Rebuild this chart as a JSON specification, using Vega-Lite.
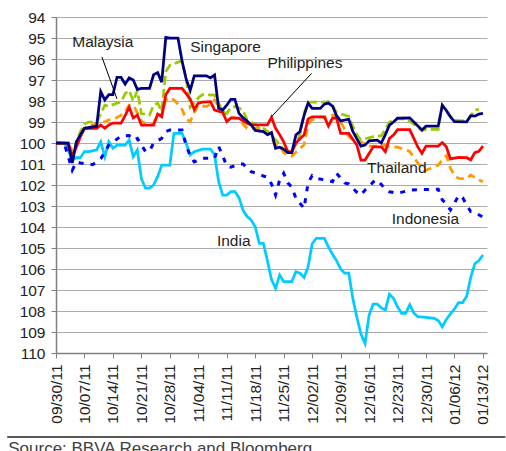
{
"$schema":"https://vega.github.io/schema/vega-lite/v6.json",
"width":431,"height":336,
"autosize":{"type":"none"},
"padding":{"left":56,"top":17,"right":19,"bottom":98},
"background":"white",
"config":{"view":{"stroke":null},"font":"Liberation Sans","text":{"font":"Liberation Sans"},
 "axis":{"labelOverlap":false,"labelFlush":false,"labelBound":false,"title":null,"labelFontSize":15.5,"labelFont":"Liberation Sans","labelColor":"#222222","labelPadding":6,"tickSize":5,"tickColor":"#808080","domainColor":"#808080","domainWidth":1.5},
 "axisX":{"grid":false,"labelAngle":-90,"labelAlign":"right","labelBaseline":"middle"},
 "axisY":{"grid":true,"gridColor":"#ababab","gridWidth":1}},
"resolve":{"axis":{"x":"independent","y":"independent"}},
"datasets":{
"series":[
{"s":"Singapore","t":"2011-09-30","v":100},{"s":"Singapore","t":"2011-10-03","v":100},{"s":"Singapore","t":"2011-10-04","v":100.95},{"s":"Singapore","t":"2011-10-05","v":99.95},{"s":"Singapore","t":"2011-10-06","v":99.6},{"s":"Singapore","t":"2011-10-07","v":99.3},{"s":"Singapore","t":"2011-10-10","v":99.2},{"s":"Singapore","t":"2011-10-11","v":97.55},{"s":"Singapore","t":"2011-10-12","v":97.95},{"s":"Singapore","t":"2011-10-13","v":97.7},{"s":"Singapore","t":"2011-10-14","v":97.7},{"s":"Singapore","t":"2011-10-15","v":96.87},{"s":"Singapore","t":"2011-10-16","v":96.87},{"s":"Singapore","t":"2011-10-17","v":97.2},{"s":"Singapore","t":"2011-10-18","v":96.9},{"s":"Singapore","t":"2011-10-19","v":97.0},{"s":"Singapore","t":"2011-10-20","v":97.45},{"s":"Singapore","t":"2011-10-21","v":97.4},{"s":"Singapore","t":"2011-10-23","v":97.4},{"s":"Singapore","t":"2011-10-24","v":96.75},{"s":"Singapore","t":"2011-10-25","v":96.65},{"s":"Singapore","t":"2011-10-26","v":97.1},{"s":"Singapore","t":"2011-10-27","v":94.97},{"s":"Singapore","t":"2011-10-28","v":95.0},{"s":"Singapore","t":"2011-10-30","v":95.0},{"s":"Singapore","t":"2011-10-31","v":96.1},{"s":"Singapore","t":"2011-11-01","v":96.95},{"s":"Singapore","t":"2011-11-02","v":97.5},{"s":"Singapore","t":"2011-11-03","v":96.8},{"s":"Singapore","t":"2011-11-06","v":96.8},{"s":"Singapore","t":"2011-11-07","v":96.9},{"s":"Singapore","t":"2011-11-08","v":96.76},{"s":"Singapore","t":"2011-11-09","v":98.35},{"s":"Singapore","t":"2011-11-10","v":98.43},{"s":"Singapore","t":"2011-11-11","v":98.2},{"s":"Singapore","t":"2011-11-12","v":97.92},{"s":"Singapore","t":"2011-11-13","v":97.92},{"s":"Singapore","t":"2011-11-14","v":98.59},{"s":"Singapore","t":"2011-11-15","v":98.8},{"s":"Singapore","t":"2011-11-16","v":98.95},{"s":"Singapore","t":"2011-11-17","v":99.14},{"s":"Singapore","t":"2011-11-18","v":99.4},{"s":"Singapore","t":"2011-11-20","v":99.46},{"s":"Singapore","t":"2011-11-21","v":99.6},{"s":"Singapore","t":"2011-11-22","v":99.5},{"s":"Singapore","t":"2011-11-23","v":100.25},{"s":"Singapore","t":"2011-11-24","v":100.2},{"s":"Singapore","t":"2011-11-25","v":100.3},{"s":"Singapore","t":"2011-11-26","v":100.46},{"s":"Singapore","t":"2011-11-27","v":100.46},{"s":"Singapore","t":"2011-11-28","v":99.62},{"s":"Singapore","t":"2011-11-29","v":99.45},{"s":"Singapore","t":"2011-11-30","v":98.7},{"s":"Singapore","t":"2011-12-01","v":98.1},{"s":"Singapore","t":"2011-12-02","v":98.35},{"s":"Singapore","t":"2011-12-04","v":98.35},{"s":"Singapore","t":"2011-12-05","v":98.15},{"s":"Singapore","t":"2011-12-06","v":98.1},{"s":"Singapore","t":"2011-12-07","v":98.24},{"s":"Singapore","t":"2011-12-08","v":98.7},{"s":"Singapore","t":"2011-12-09","v":98.95},{"s":"Singapore","t":"2011-12-11","v":98.87},{"s":"Singapore","t":"2011-12-12","v":99.45},{"s":"Singapore","t":"2011-12-13","v":99.8},{"s":"Singapore","t":"2011-12-14","v":100.15},{"s":"Singapore","t":"2011-12-15","v":100.1},{"s":"Singapore","t":"2011-12-16","v":99.9},{"s":"Singapore","t":"2011-12-18","v":99.86},{"s":"Singapore","t":"2011-12-19","v":100.0},{"s":"Singapore","t":"2011-12-20","v":99.6},{"s":"Singapore","t":"2011-12-21","v":99.15},{"s":"Singapore","t":"2011-12-22","v":99.0},{"s":"Singapore","t":"2011-12-23","v":98.82},{"s":"Singapore","t":"2011-12-26","v":98.8},{"s":"Singapore","t":"2011-12-29","v":99.38},{"s":"Singapore","t":"2011-12-30","v":99.2},{"s":"Singapore","t":"2012-01-02","v":99.2},{"s":"Singapore","t":"2012-01-03","v":98.2},{"s":"Singapore","t":"2012-01-04","v":98.45},{"s":"Singapore","t":"2012-01-05","v":98.75},{"s":"Singapore","t":"2012-01-06","v":98.98},{"s":"Singapore","t":"2012-01-09","v":98.99},{"s":"Singapore","t":"2012-01-10","v":98.7},{"s":"Singapore","t":"2012-01-11","v":98.72},{"s":"Singapore","t":"2012-01-12","v":98.62},{"s":"Singapore","t":"2012-01-13","v":98.59},
{"s":"Malaysia","t":"2011-09-30","v":100},{"s":"Malaysia","t":"2011-10-03","v":100},{"s":"Malaysia","t":"2011-10-04","v":100.75},{"s":"Malaysia","t":"2011-10-05","v":100.0},{"s":"Malaysia","t":"2011-10-06","v":99.45},{"s":"Malaysia","t":"2011-10-07","v":99.1},{"s":"Malaysia","t":"2011-10-08","v":99.0},{"s":"Malaysia","t":"2011-10-10","v":99.0},{"s":"Malaysia","t":"2011-10-11","v":98.6},{"s":"Malaysia","t":"2011-10-12","v":98.2},{"s":"Malaysia","t":"2011-10-13","v":98.25},{"s":"Malaysia","t":"2011-10-15","v":98.1},{"s":"Malaysia","t":"2011-10-16","v":98.05},{"s":"Malaysia","t":"2011-10-17","v":97.65},{"s":"Malaysia","t":"2011-10-18","v":97.5},{"s":"Malaysia","t":"2011-10-19","v":98.0},{"s":"Malaysia","t":"2011-10-20","v":97.5},{"s":"Malaysia","t":"2011-10-21","v":98.6},{"s":"Malaysia","t":"2011-10-23","v":98.67},{"s":"Malaysia","t":"2011-10-24","v":98.2},{"s":"Malaysia","t":"2011-10-25","v":98.1},{"s":"Malaysia","t":"2011-10-26","v":98.5},{"s":"Malaysia","t":"2011-10-27","v":96.6},{"s":"Malaysia","t":"2011-10-28","v":96.3},{"s":"Malaysia","t":"2011-10-30","v":96.15},{"s":"Malaysia","t":"2011-10-31","v":96.1},{"s":"Malaysia","t":"2011-11-01","v":96.9},{"s":"Malaysia","t":"2011-11-02","v":98.3},{"s":"Malaysia","t":"2011-11-03","v":98.1},{"s":"Malaysia","t":"2011-11-04","v":97.85},{"s":"Malaysia","t":"2011-11-05","v":97.7},{"s":"Malaysia","t":"2011-11-08","v":97.72},{"s":"Malaysia","t":"2011-11-09","v":98.1},{"s":"Malaysia","t":"2011-11-10","v":98.5},{"s":"Malaysia","t":"2011-11-11","v":98.6},{"s":"Malaysia","t":"2011-11-12","v":98.3},{"s":"Malaysia","t":"2011-11-13","v":98.27},{"s":"Malaysia","t":"2011-11-14","v":98.33},{"s":"Malaysia","t":"2011-11-15","v":98.45},{"s":"Malaysia","t":"2011-11-16","v":98.9},{"s":"Malaysia","t":"2011-11-17","v":99.0},{"s":"Malaysia","t":"2011-11-19","v":99.22},{"s":"Malaysia","t":"2011-11-20","v":99.3},{"s":"Malaysia","t":"2011-11-21","v":99.45},{"s":"Malaysia","t":"2011-11-23","v":99.85},{"s":"Malaysia","t":"2011-11-24","v":100.05},{"s":"Malaysia","t":"2011-11-25","v":100.33},{"s":"Malaysia","t":"2011-11-27","v":100.4},{"s":"Malaysia","t":"2011-11-28","v":100.05},{"s":"Malaysia","t":"2011-11-29","v":99.6},{"s":"Malaysia","t":"2011-11-30","v":98.6},{"s":"Malaysia","t":"2011-12-01","v":98.05},{"s":"Malaysia","t":"2011-12-05","v":98.05},{"s":"Malaysia","t":"2011-12-06","v":98.03},{"s":"Malaysia","t":"2011-12-07","v":98.2},{"s":"Malaysia","t":"2011-12-08","v":98.55},{"s":"Malaysia","t":"2011-12-10","v":98.67},{"s":"Malaysia","t":"2011-12-11","v":98.73},{"s":"Malaysia","t":"2011-12-12","v":99.2},{"s":"Malaysia","t":"2011-12-13","v":99.6},{"s":"Malaysia","t":"2011-12-14","v":99.85},{"s":"Malaysia","t":"2011-12-17","v":99.7},{"s":"Malaysia","t":"2011-12-19","v":99.65},{"s":"Malaysia","t":"2011-12-20","v":99.35},{"s":"Malaysia","t":"2011-12-21","v":99.0},{"s":"Malaysia","t":"2011-12-23","v":98.85},{"s":"Malaysia","t":"2011-12-25","v":98.85},{"s":"Malaysia","t":"2011-12-27","v":99.1},{"s":"Malaysia","t":"2011-12-29","v":99.4},{"s":"Malaysia","t":"2011-12-30","v":99.35},{"s":"Malaysia","t":"2012-01-02","v":99.35},{"s":"Malaysia","t":"2012-01-03","v":98.2},{"s":"Malaysia","t":"2012-01-05","v":98.75},{"s":"Malaysia","t":"2012-01-06","v":98.92},{"s":"Malaysia","t":"2012-01-09","v":98.95},{"s":"Malaysia","t":"2012-01-10","v":98.7},{"s":"Malaysia","t":"2012-01-11","v":98.43},{"s":"Malaysia","t":"2012-01-12","v":98.4},
{"s":"Philippines","t":"2011-09-30","v":100},{"s":"Philippines","t":"2011-10-03","v":100},{"s":"Philippines","t":"2011-10-04","v":100.65},{"s":"Philippines","t":"2011-10-05","v":100.2},{"s":"Philippines","t":"2011-10-06","v":99.7},{"s":"Philippines","t":"2011-10-07","v":99.3},{"s":"Philippines","t":"2011-10-10","v":99.3},{"s":"Philippines","t":"2011-10-11","v":99.14},{"s":"Philippines","t":"2011-10-12","v":99.3},{"s":"Philippines","t":"2011-10-13","v":99.14},{"s":"Philippines","t":"2011-10-14","v":99.05},{"s":"Philippines","t":"2011-10-16","v":99.05},{"s":"Philippines","t":"2011-10-17","v":98.7},{"s":"Philippines","t":"2011-10-18","v":98.3},{"s":"Philippines","t":"2011-10-19","v":98.8},{"s":"Philippines","t":"2011-10-20","v":98.67},{"s":"Philippines","t":"2011-10-21","v":99.15},{"s":"Philippines","t":"2011-10-24","v":99.15},{"s":"Philippines","t":"2011-10-25","v":98.62},{"s":"Philippines","t":"2011-10-26","v":98.75},{"s":"Philippines","t":"2011-10-27","v":97.7},{"s":"Philippines","t":"2011-10-28","v":97.4},{"s":"Philippines","t":"2011-10-31","v":97.4},{"s":"Philippines","t":"2011-11-01","v":97.65},{"s":"Philippines","t":"2011-11-02","v":97.9},{"s":"Philippines","t":"2011-11-03","v":98.4},{"s":"Philippines","t":"2011-11-04","v":98.1},{"s":"Philippines","t":"2011-11-05","v":98.05},{"s":"Philippines","t":"2011-11-07","v":98.03},{"s":"Philippines","t":"2011-11-08","v":98.43},{"s":"Philippines","t":"2011-11-10","v":98.55},{"s":"Philippines","t":"2011-11-11","v":98.98},{"s":"Philippines","t":"2011-11-12","v":98.82},{"s":"Philippines","t":"2011-11-14","v":98.82},{"s":"Philippines","t":"2011-11-16","v":99.06},{"s":"Philippines","t":"2011-11-17","v":99.14},{"s":"Philippines","t":"2011-11-21","v":99.14},{"s":"Philippines","t":"2011-11-22","v":98.78},{"s":"Philippines","t":"2011-11-23","v":99.3},{"s":"Philippines","t":"2011-11-24","v":99.6},{"s":"Philippines","t":"2011-11-25","v":99.95},{"s":"Philippines","t":"2011-11-26","v":100.41},{"s":"Philippines","t":"2011-11-27","v":100.41},{"s":"Philippines","t":"2011-11-28","v":100.0},{"s":"Philippines","t":"2011-11-29","v":99.8},{"s":"Philippines","t":"2011-11-30","v":99.62},{"s":"Philippines","t":"2011-12-01","v":98.85},{"s":"Philippines","t":"2011-12-02","v":98.75},{"s":"Philippines","t":"2011-12-05","v":98.75},{"s":"Philippines","t":"2011-12-06","v":99.19},{"s":"Philippines","t":"2011-12-07","v":98.82},{"s":"Philippines","t":"2011-12-08","v":98.82},{"s":"Philippines","t":"2011-12-09","v":99.54},{"s":"Philippines","t":"2011-12-11","v":99.54},{"s":"Philippines","t":"2011-12-13","v":100.1},{"s":"Philippines","t":"2011-12-14","v":100.81},{"s":"Philippines","t":"2011-12-15","v":100.81},{"s":"Philippines","t":"2011-12-16","v":100.5},{"s":"Philippines","t":"2011-12-17","v":100.18},{"s":"Philippines","t":"2011-12-19","v":100.18},{"s":"Philippines","t":"2011-12-20","v":100.41},{"s":"Philippines","t":"2011-12-21","v":99.78},{"s":"Philippines","t":"2011-12-22","v":99.62},{"s":"Philippines","t":"2011-12-23","v":99.36},{"s":"Philippines","t":"2011-12-26","v":99.36},{"s":"Philippines","t":"2011-12-27","v":99.78},{"s":"Philippines","t":"2011-12-28","v":100.2},{"s":"Philippines","t":"2011-12-29","v":100.49},{"s":"Philippines","t":"2011-12-30","v":100.15},{"s":"Philippines","t":"2012-01-02","v":100.15},{"s":"Philippines","t":"2012-01-03","v":99.98},{"s":"Philippines","t":"2012-01-04","v":100.18},{"s":"Philippines","t":"2012-01-05","v":100.76},{"s":"Philippines","t":"2012-01-07","v":100.68},{"s":"Philippines","t":"2012-01-09","v":100.7},{"s":"Philippines","t":"2012-01-10","v":100.8},{"s":"Philippines","t":"2012-01-11","v":100.46},{"s":"Philippines","t":"2012-01-12","v":100.4},{"s":"Philippines","t":"2012-01-13","v":100.15},
{"s":"Thailand","t":"2011-09-30","v":100},{"s":"Thailand","t":"2011-10-03","v":100.05},{"s":"Thailand","t":"2011-10-04","v":100.35},{"s":"Thailand","t":"2011-10-05","v":100.0},{"s":"Thailand","t":"2011-10-06","v":99.7},{"s":"Thailand","t":"2011-10-07","v":99.3},{"s":"Thailand","t":"2011-10-09","v":99.15},{"s":"Thailand","t":"2011-10-10","v":99.05},{"s":"Thailand","t":"2011-10-11","v":98.98},{"s":"Thailand","t":"2011-10-12","v":99.0},{"s":"Thailand","t":"2011-10-13","v":98.9},{"s":"Thailand","t":"2011-10-14","v":98.9},{"s":"Thailand","t":"2011-10-16","v":98.67},{"s":"Thailand","t":"2011-10-17","v":98.5},{"s":"Thailand","t":"2011-10-18","v":98.2},{"s":"Thailand","t":"2011-10-19","v":98.2},{"s":"Thailand","t":"2011-10-20","v":98.55},{"s":"Thailand","t":"2011-10-21","v":98.98},{"s":"Thailand","t":"2011-10-22","v":99.06},{"s":"Thailand","t":"2011-10-24","v":99.06},{"s":"Thailand","t":"2011-10-25","v":98.65},{"s":"Thailand","t":"2011-10-26","v":98.67},{"s":"Thailand","t":"2011-10-27","v":97.95},{"s":"Thailand","t":"2011-10-28","v":97.85},{"s":"Thailand","t":"2011-10-29","v":97.95},{"s":"Thailand","t":"2011-10-30","v":98.15},{"s":"Thailand","t":"2011-10-31","v":98.4},{"s":"Thailand","t":"2011-11-01","v":98.85},{"s":"Thailand","t":"2011-11-02","v":98.98},{"s":"Thailand","t":"2011-11-03","v":98.55},{"s":"Thailand","t":"2011-11-04","v":98.2},{"s":"Thailand","t":"2011-11-06","v":98.27},{"s":"Thailand","t":"2011-11-07","v":98.15},{"s":"Thailand","t":"2011-11-08","v":97.95},{"s":"Thailand","t":"2011-11-10","v":98.5},{"s":"Thailand","t":"2011-11-11","v":98.7},{"s":"Thailand","t":"2011-11-13","v":98.8},{"s":"Thailand","t":"2011-11-14","v":98.85},{"s":"Thailand","t":"2011-11-15","v":99.1},{"s":"Thailand","t":"2011-11-16","v":99.3},{"s":"Thailand","t":"2011-11-20","v":99.3},{"s":"Thailand","t":"2011-11-21","v":99.45},{"s":"Thailand","t":"2011-11-22","v":99.8},{"s":"Thailand","t":"2011-11-23","v":100.08},{"s":"Thailand","t":"2011-11-24","v":100.14},{"s":"Thailand","t":"2011-11-25","v":100.45},{"s":"Thailand","t":"2011-11-26","v":100.6},{"s":"Thailand","t":"2011-11-27","v":100.62},{"s":"Thailand","t":"2011-11-29","v":100.25},{"s":"Thailand","t":"2011-11-30","v":100.1},{"s":"Thailand","t":"2011-12-01","v":99.1},{"s":"Thailand","t":"2011-12-02","v":98.9},{"s":"Thailand","t":"2011-12-04","v":98.75},{"s":"Thailand","t":"2011-12-05","v":98.8},{"s":"Thailand","t":"2011-12-06","v":98.72},{"s":"Thailand","t":"2011-12-07","v":98.67},{"s":"Thailand","t":"2011-12-08","v":98.72},{"s":"Thailand","t":"2011-12-09","v":99.0},{"s":"Thailand","t":"2011-12-11","v":99.7},{"s":"Thailand","t":"2011-12-12","v":99.85},{"s":"Thailand","t":"2011-12-14","v":99.95},{"s":"Thailand","t":"2011-12-16","v":100.15},{"s":"Thailand","t":"2011-12-19","v":100.14},{"s":"Thailand","t":"2011-12-20","v":100.1},{"s":"Thailand","t":"2011-12-21","v":100.2},{"s":"Thailand","t":"2011-12-23","v":100.2},{"s":"Thailand","t":"2011-12-25","v":100.33},{"s":"Thailand","t":"2011-12-26","v":100.4},{"s":"Thailand","t":"2011-12-27","v":100.7},{"s":"Thailand","t":"2011-12-28","v":100.95},{"s":"Thailand","t":"2011-12-29","v":101.2},{"s":"Thailand","t":"2011-12-30","v":101.3},{"s":"Thailand","t":"2012-01-01","v":101.13},{"s":"Thailand","t":"2012-01-02","v":101.05},{"s":"Thailand","t":"2012-01-03","v":100.8},{"s":"Thailand","t":"2012-01-04","v":100.6},{"s":"Thailand","t":"2012-01-05","v":101.2},{"s":"Thailand","t":"2012-01-06","v":101.55},{"s":"Thailand","t":"2012-01-07","v":101.68},{"s":"Thailand","t":"2012-01-09","v":101.7},{"s":"Thailand","t":"2012-01-10","v":101.52},{"s":"Thailand","t":"2012-01-12","v":101.76},{"s":"Thailand","t":"2012-01-13","v":101.84},
{"s":"India","t":"2011-09-30","v":100},{"s":"India","t":"2011-10-02","v":100},{"s":"India","t":"2011-10-03","v":100.33},{"s":"India","t":"2011-10-04","v":100.81},{"s":"India","t":"2011-10-05","v":100.7},{"s":"India","t":"2011-10-06","v":100.7},{"s":"India","t":"2011-10-07","v":100.41},{"s":"India","t":"2011-10-08","v":100.41},{"s":"India","t":"2011-10-10","v":100.33},{"s":"India","t":"2011-10-11","v":99.94},{"s":"India","t":"2011-10-12","v":100.65},{"s":"India","t":"2011-10-13","v":99.94},{"s":"India","t":"2011-10-14","v":100.25},{"s":"India","t":"2011-10-15","v":100.1},{"s":"India","t":"2011-10-17","v":100.1},{"s":"India","t":"2011-10-18","v":99.86},{"s":"India","t":"2011-10-19","v":100.65},{"s":"India","t":"2011-10-20","v":100.33},{"s":"India","t":"2011-10-21","v":101.7},{"s":"India","t":"2011-10-22","v":102.15},{"s":"India","t":"2011-10-23","v":102.15},{"s":"India","t":"2011-10-24","v":102.0},{"s":"India","t":"2011-10-25","v":101.6},{"s":"India","t":"2011-10-26","v":101.05},{"s":"India","t":"2011-10-28","v":101.05},{"s":"India","t":"2011-10-29","v":99.54},{"s":"India","t":"2011-10-31","v":99.54},{"s":"India","t":"2011-11-01","v":100.0},{"s":"India","t":"2011-11-02","v":100.57},{"s":"India","t":"2011-11-03","v":100.41},{"s":"India","t":"2011-11-05","v":100.29},{"s":"India","t":"2011-11-07","v":100.29},{"s":"India","t":"2011-11-08","v":100.57},{"s":"India","t":"2011-11-09","v":101.84},{"s":"India","t":"2011-11-10","v":102.48},{"s":"India","t":"2011-11-11","v":102.48},{"s":"India","t":"2011-11-12","v":102.32},{"s":"India","t":"2011-11-13","v":102.32},{"s":"India","t":"2011-11-14","v":102.6},{"s":"India","t":"2011-11-15","v":103.2},{"s":"India","t":"2011-11-16","v":103.5},{"s":"India","t":"2011-11-17","v":103.67},{"s":"India","t":"2011-11-18","v":103.99},{"s":"India","t":"2011-11-19","v":104.78},{"s":"India","t":"2011-11-20","v":104.78},{"s":"India","t":"2011-11-21","v":105.6},{"s":"India","t":"2011-11-22","v":106.5},{"s":"India","t":"2011-11-23","v":106.92},{"s":"India","t":"2011-11-24","v":106.29},{"s":"India","t":"2011-11-25","v":106.6},{"s":"India","t":"2011-11-27","v":106.6},{"s":"India","t":"2011-11-28","v":106.13},{"s":"India","t":"2011-11-29","v":106.2},{"s":"India","t":"2011-11-30","v":106.4},{"s":"India","t":"2011-12-01","v":105.9},{"s":"India","t":"2011-12-02","v":104.8},{"s":"India","t":"2011-12-03","v":104.54},{"s":"India","t":"2011-12-05","v":104.54},{"s":"India","t":"2011-12-06","v":104.95},{"s":"India","t":"2011-12-07","v":105.3},{"s":"India","t":"2011-12-08","v":105.6},{"s":"India","t":"2011-12-09","v":106.0},{"s":"India","t":"2011-12-10","v":106.2},{"s":"India","t":"2011-12-11","v":106.2},{"s":"India","t":"2011-12-12","v":107.4},{"s":"India","t":"2011-12-13","v":108.3},{"s":"India","t":"2011-12-14","v":109.1},{"s":"India","t":"2011-12-15","v":109.55},{"s":"India","t":"2011-12-16","v":108.2},{"s":"India","t":"2011-12-17","v":107.67},{"s":"India","t":"2011-12-18","v":107.67},{"s":"India","t":"2011-12-19","v":107.85},{"s":"India","t":"2011-12-20","v":107.95},{"s":"India","t":"2011-12-21","v":107.2},{"s":"India","t":"2011-12-22","v":107.4},{"s":"India","t":"2011-12-23","v":107.8},{"s":"India","t":"2011-12-24","v":108.11},{"s":"India","t":"2011-12-25","v":108.11},{"s":"India","t":"2011-12-26","v":107.7},{"s":"India","t":"2011-12-27","v":108.1},{"s":"India","t":"2011-12-28","v":108.27},{"s":"India","t":"2011-12-30","v":108.3},{"s":"India","t":"2012-01-01","v":108.35},{"s":"India","t":"2012-01-02","v":108.45},{"s":"India","t":"2012-01-03","v":108.75},{"s":"India","t":"2012-01-04","v":108.4},{"s":"India","t":"2012-01-05","v":108.14},{"s":"India","t":"2012-01-06","v":107.9},{"s":"India","t":"2012-01-07","v":107.6},{"s":"India","t":"2012-01-08","v":107.6},{"s":"India","t":"2012-01-09","v":107.3},{"s":"India","t":"2012-01-10","v":106.4},{"s":"India","t":"2012-01-11","v":105.75},{"s":"India","t":"2012-01-12","v":105.6},{"s":"India","t":"2012-01-13","v":105.33},
{"s":"Indonesia","t":"2011-09-30","v":100},{"s":"Indonesia","t":"2011-10-02","v":100},{"s":"Indonesia","t":"2011-10-04","v":101.29},{"s":"Indonesia","t":"2011-10-05","v":100.9},{"s":"Indonesia","t":"2011-10-06","v":100.95},{"s":"Indonesia","t":"2011-10-09","v":101.03},{"s":"Indonesia","t":"2011-10-11","v":100.75},{"s":"Indonesia","t":"2011-10-12","v":100.45},{"s":"Indonesia","t":"2011-10-13","v":100.1},{"s":"Indonesia","t":"2011-10-16","v":99.67},{"s":"Indonesia","t":"2011-10-18","v":99.65},{"s":"Indonesia","t":"2011-10-19","v":99.86},{"s":"Indonesia","t":"2011-10-20","v":99.78},{"s":"Indonesia","t":"2011-10-22","v":100.4},{"s":"Indonesia","t":"2011-10-23","v":100.38},{"s":"Indonesia","t":"2011-10-24","v":100.0},{"s":"Indonesia","t":"2011-10-26","v":99.78},{"s":"Indonesia","t":"2011-10-27","v":99.46},{"s":"Indonesia","t":"2011-10-28","v":99.38},{"s":"Indonesia","t":"2011-10-31","v":99.38},{"s":"Indonesia","t":"2011-11-01","v":100.12},{"s":"Indonesia","t":"2011-11-02","v":100.6},{"s":"Indonesia","t":"2011-11-03","v":100.9},{"s":"Indonesia","t":"2011-11-05","v":100.73},{"s":"Indonesia","t":"2011-11-08","v":100.73},{"s":"Indonesia","t":"2011-11-09","v":100.17},{"s":"Indonesia","t":"2011-11-10","v":100.6},{"s":"Indonesia","t":"2011-11-11","v":101.1},{"s":"Indonesia","t":"2011-11-12","v":101.15},{"s":"Indonesia","t":"2011-11-14","v":101.0},{"s":"Indonesia","t":"2011-11-15","v":101.0},{"s":"Indonesia","t":"2011-11-17","v":101.37},{"s":"Indonesia","t":"2011-11-18","v":101.42},{"s":"Indonesia","t":"2011-11-20","v":101.57},{"s":"Indonesia","t":"2011-11-21","v":101.63},{"s":"Indonesia","t":"2011-11-22","v":101.95},{"s":"Indonesia","t":"2011-11-23","v":102.48},{"s":"Indonesia","t":"2011-11-24","v":101.76},{"s":"Indonesia","t":"2011-11-25","v":101.44},{"s":"Indonesia","t":"2011-11-26","v":101.9},{"s":"Indonesia","t":"2011-11-27","v":102.1},{"s":"Indonesia","t":"2011-11-28","v":102.63},{"s":"Indonesia","t":"2011-11-30","v":103.11},{"s":"Indonesia","t":"2011-12-01","v":101.9},{"s":"Indonesia","t":"2011-12-02","v":101.55},{"s":"Indonesia","t":"2011-12-03","v":101.68},{"s":"Indonesia","t":"2011-12-06","v":101.79},{"s":"Indonesia","t":"2011-12-07","v":101.84},{"s":"Indonesia","t":"2011-12-08","v":101.44},{"s":"Indonesia","t":"2011-12-10","v":101.9},{"s":"Indonesia","t":"2011-12-11","v":101.95},{"s":"Indonesia","t":"2011-12-13","v":102.35},{"s":"Indonesia","t":"2011-12-14","v":102.48},{"s":"Indonesia","t":"2011-12-15","v":102.24},{"s":"Indonesia","t":"2011-12-16","v":102.1},{"s":"Indonesia","t":"2011-12-17","v":101.85},{"s":"Indonesia","t":"2011-12-18","v":101.76},{"s":"Indonesia","t":"2011-12-20","v":102.2},{"s":"Indonesia","t":"2011-12-21","v":102.32},{"s":"Indonesia","t":"2011-12-23","v":102.4},{"s":"Indonesia","t":"2011-12-26","v":102.24},{"s":"Indonesia","t":"2011-12-29","v":102.22},{"s":"Indonesia","t":"2012-01-02","v":102.2},{"s":"Indonesia","t":"2012-01-03","v":102.71},{"s":"Indonesia","t":"2012-01-04","v":102.9},{"s":"Indonesia","t":"2012-01-05","v":103.19},{"s":"Indonesia","t":"2012-01-06","v":102.87},{"s":"Indonesia","t":"2012-01-07","v":102.5},{"s":"Indonesia","t":"2012-01-08","v":102.6},{"s":"Indonesia","t":"2012-01-09","v":102.95},{"s":"Indonesia","t":"2012-01-10","v":103.27},{"s":"Indonesia","t":"2012-01-11","v":103.31},{"s":"Indonesia","t":"2012-01-13","v":103.53}
],
"labels":[
{"label":"Malaysia","t":"2011-10-04","v":95.2},
{"label":"Singapore","t":"2011-11-02","v":95.45},
{"label":"Philippines","t":"2011-11-21","v":96.17},
{"label":"Thailand","t":"2011-12-15T12:00:00Z","v":101.2},
{"label":"Indonesia","t":"2011-12-21T14:00:00Z","v":103.6},
{"label":"India","t":"2011-11-08T14:00:00Z","v":104.67}
],
"pointers":[
{"label":"Malaysia","t":"2011-10-11T07:00:00Z","v":95.9,"t2":"2011-10-15","v2":97.9},
{"label":"Philippines","t":"2011-12-01T21:00:00Z","v":96.68,"t2":"2011-11-22","v2":98.75}
],
"notes":[{"label":"Source: BBVA Research and Bloomberg"}]
},
"layer":[
{
"data":{"name":"series"},
"encoding":{
"x":{"field":"t","type":"temporal",
 "scale":{"type":"utc","domain":[{"year":2011,"month":9,"date":30,"utc":true},{"year":2012,"month":1,"date":14,"utc":true}]},
 "axis":{"title":null,"grid":false,
  "values":[{"year":2011,"month":9,"date":30,"utc":true},{"year":2011,"month":10,"date":7,"utc":true},{"year":2011,"month":10,"date":14,"utc":true},{"year":2011,"month":10,"date":21,"utc":true},{"year":2011,"month":10,"date":28,"utc":true},{"year":2011,"month":11,"date":4,"utc":true},{"year":2011,"month":11,"date":11,"utc":true},{"year":2011,"month":11,"date":18,"utc":true},{"year":2011,"month":11,"date":25,"utc":true},{"year":2011,"month":12,"date":2,"utc":true},{"year":2011,"month":12,"date":9,"utc":true},{"year":2011,"month":12,"date":16,"utc":true},{"year":2011,"month":12,"date":23,"utc":true},{"year":2011,"month":12,"date":30,"utc":true},{"year":2012,"month":1,"date":6,"utc":true},{"year":2012,"month":1,"date":13,"utc":true}],
  "labelExpr":"utcFormat(datum.value, '%m/%d/%y')",
  "labelAngle":-90,"labelAlign":"right","labelBaseline":"middle",
  "labelOverlap":false,"labelFlush":false,"labelBound":false}},
"y":{"field":"v","type":"quantitative",
 "scale":{"domain":[94,110],"reverse":true,"nice":false,"zero":false},
 "axis":{"title":null,"values":[94,95,96,97,98,99,100,101,102,103,104,105,106,107,108,109,110],
  "grid":true,"labelOverlap":false,"labelFlush":false}}
},
"layer":[
{"transform":[{"filter":"datum.s === 'India'"}],"mark":{"type":"line","color":"#00CCFF","strokeWidth":2.75}},
{"transform":[{"filter":"datum.s === 'Indonesia'"}],"mark":{"type":"line","color":"#0000FF","strokeWidth":3,"strokeDash":[5,7]}},
{"transform":[{"filter":"datum.s === 'Thailand'"}],"mark":{"type":"line","color":"#FF9900","strokeWidth":2.75,"strokeDash":[8,5]}},
{"transform":[{"filter":"datum.s === 'Malaysia'"}],"mark":{"type":"line","color":"#99CC00","strokeWidth":2.75,"strokeDash":[9,4]}},
{"transform":[{"filter":"datum.s === 'Philippines'"}],"mark":{"type":"line","color":"#FF0000","strokeWidth":2.75}},
{"transform":[{"filter":"datum.s === 'Singapore'"}],"mark":{"type":"line","color":"#000080","strokeWidth":2.75}},
{"data":{"name":"pointers"},"mark":{"type":"rule","color":"#000000","strokeWidth":1},
 "encoding":{"x2":{"field":"t2"},"y2":{"field":"v2"}}},
{"data":{"name":"labels"},"mark":{"type":"text","align":"left","baseline":"middle","fontSize":15.5,"font":"Liberation Sans","color":"#222222"},
 "encoding":{"text":{"field":"label"}}}
]
},
{"data":{"values":[{}]},"mark":{"type":"rule","color":"#595959","strokeWidth":2,"clip":false},
 "encoding":{"x":{"datum":{"year":2011,"month":9,"date":18,"utc":true},"type":"temporal","axis":null},"x2":{"datum":{"year":2012,"month":1,"date":18,"hours":12,"utc":true}},"y":{"datum":114,"type":"quantitative","axis":null}}},
{"data":{"name":"notes"},"mark":{"type":"text","align":"left","baseline":"top","fontSize":17,"font":"Liberation Sans","color":"#404040","clip":false},
 "encoding":{"x":{"datum":{"year":2011,"month":9,"date":18,"hours":6,"utc":true},"type":"temporal","axis":null},"y":{"datum":114.2,"type":"quantitative","axis":null},"text":{"field":"label"}}}
]
}
